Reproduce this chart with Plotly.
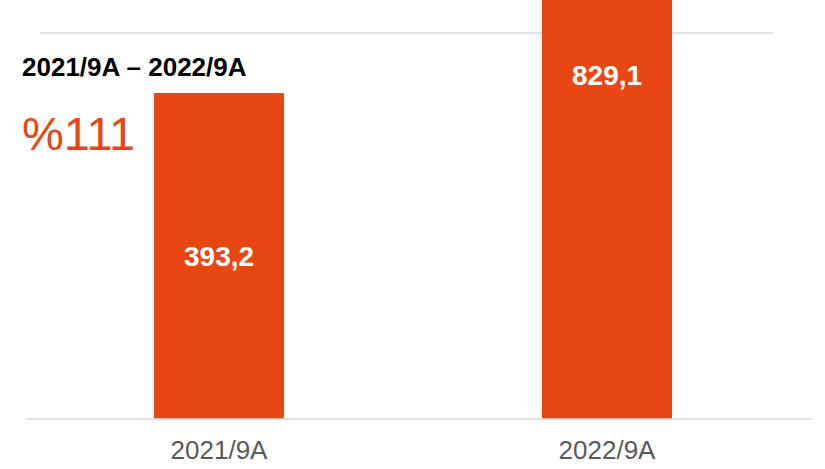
import plotly.graph_objects as go

categories = ["2021/9A", "2022/9A"]
values = [393.2, 829.1]
period_label = "2021/9A – 2022/9A"

growth_pct = round((values[1] / values[0] - 1) * 100)

BAR = "#E84612"
FONT = "Liberation Sans, Arial, sans-serif"

def fmt(v):
    return f"{v:.1f}".replace(".", ",")

fig = go.Figure()
fig.add_trace(go.Bar(
    x=categories, y=values,
    marker=dict(color=BAR, line=dict(width=0)),
    width=0.335,
    hoverinfo="skip",
))

W, H = 825, 469
ml, mr, mt, mb = 25, 24, 0, 50
pw = W - ml - mr
ph = H - mt - mb

def px_x(x):
    return (x - ml) / pw

def px_y(y):
    return (H - mb - y) / ph

annotations = [
    dict(x=categories[0], y=values[0] / 2, xref="x", yref="y",
         yanchor="middle",
         text=f"<b>{fmt(values[0])}</b>", showarrow=False,
         font=dict(family=FONT, size=28, color="white")),
    dict(x=categories[1], y=px_y(75), xref="x", yref="paper",
         yanchor="middle",
         text=f"<b>{fmt(values[1])}</b>", showarrow=False,
         font=dict(family=FONT, size=28, color="white")),
    dict(x=px_x(20), y=px_y(67.5), xref="paper", yref="paper",
         xanchor="left", yanchor="middle",
         text=f"<b>{period_label}</b>", showarrow=False,
         font=dict(family=FONT, size=26, color="black")),
    dict(x=px_x(20), y=px_y(133), xref="paper", yref="paper",
         xanchor="left", yanchor="middle",
         text=f"%{growth_pct}", showarrow=False,
         font=dict(family=FONT, size=47, color=BAR)),
]

shapes = [
    dict(type="line", xref="paper", yref="paper",
         x0=px_x(40), x1=px_x(773), y0=px_y(33), y1=px_y(33),
         line=dict(color="#D9D9D9", width=1.5), layer="below"),
    dict(type="line", xref="paper", yref="paper",
         x0=px_x(26), x1=px_x(812), y0=0, y1=0,
         line=dict(color="#D9D9D9", width=1.5), layer="above"),
]

fig.update_layout(
    width=W, height=H,
    margin=dict(l=ml, r=mr, t=mt, b=mb),
    paper_bgcolor="white", plot_bgcolor="white",
    showlegend=False,
    annotations=annotations,
    shapes=shapes,
    xaxis=dict(showgrid=False, zeroline=False, showline=False,
               ticks="", range=[-0.5, 1.5], ticklabelstandoff=13,
               tickfont=dict(family=FONT, size=26, color="#595959")),
    yaxis=dict(range=[0, 505.5], showgrid=False, zeroline=False,
               showline=False, showticklabels=False, ticks=""),
)

fig.write_html(
    "out.html",
    config={"displayModeBar": False},
    post_script="document.body.style.margin='0';document.body.style.overflow='hidden';",
)
